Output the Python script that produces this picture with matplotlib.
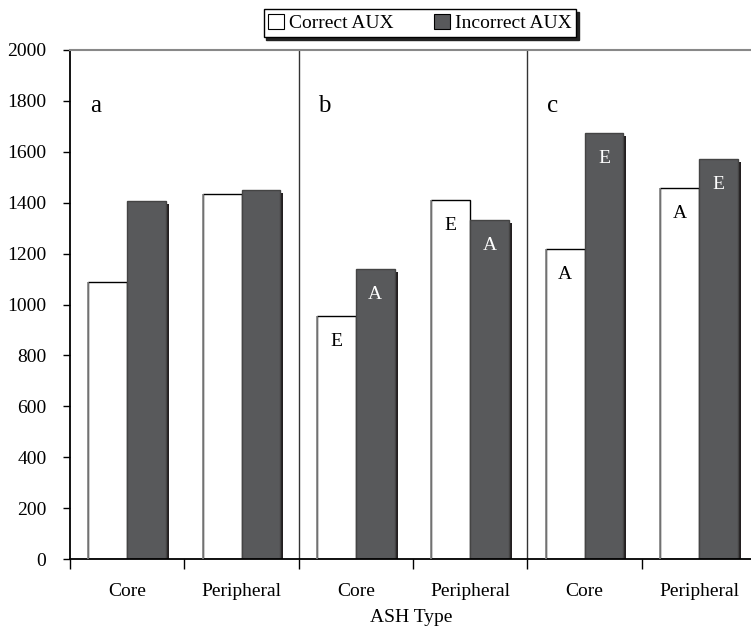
import numpy as np
import matplotlib
matplotlib.use("Agg")
import matplotlib.pyplot as plt
from matplotlib.patches import Patch

plt.rcParams['font.family'] = ['Liberation Serif', 'DejaVu Serif']

# data
panels = ['a', 'b', 'c']
categories = ['Core', 'Peripheral'] * 3
correct = [1087, 1434, 956, 1409, 1219, 1457]
incorrect = [1406, 1450, 1139, 1332, 1672, 1570]
correct_tags = ['', '', 'E', 'E', 'A', 'A']
incorrect_tags = ['', '', 'A', 'A', 'E', 'E']

dark = '#58595b'
w = 0.34

fig = plt.figure(figsize=(7.51, 6.28), dpi=100)
ax = fig.add_axes([70/751, 1 - 559/628, (751 - 69.5)/751, (559 - 50)/628])

x = np.arange(len(categories))
# shadows behind the dark bars
sh_x = 3/114.3
sh_y = 3/0.2546
ax.bar(x + sh_x, np.array(incorrect) - sh_y, w, align='edge', color='#231f20', zorder=1)
ax.bar(x - w, correct, w, align='edge', color='white', edgecolor='black', lw=1, zorder=2)
ax.bar(x, incorrect, w, align='edge', color=dark, edgecolor='#444444', lw=1, zorder=2)
ax.vlines(x - w, 0, correct, color='#888888', lw=1.2, zorder=3)

for i in range(len(x)):
    if correct_tags[i]:
        ax.text(x[i] - w/2, correct[i] - 100, correct_tags[i], ha='center', va='center',
                fontsize=14, color='black', zorder=4)
    if incorrect_tags[i]:
        ax.text(x[i] + w/2, incorrect[i] - 100, incorrect_tags[i], ha='center', va='center',
                fontsize=14, color='white', zorder=4)

# panel separators and letters
for s in [1.5, 3.5]:
    ax.axvline(s, color='#333333', lw=1, zorder=0)
for k, p in enumerate(panels):
    ax.text(2*k - 0.28, 1780, p, fontsize=18, ha='center', va='center')

ax.set_xlim(-0.5, 5.46)
ax.set_ylim(0, 2000)
ax.set_yticks(np.arange(0, 2001, 200))
ax.set_xticks(x)
ax.set_xticklabels(categories)
ax.set_xticks(np.arange(-0.5, 5.5, 1), minor=True)
ax.tick_params(axis='x', which='major', length=0, pad=17, labelsize=14)
ax.tick_params(axis='x', which='minor', length=7, width=1, direction='out')
ax.tick_params(axis='y', length=5, width=1, labelsize=14, pad=12)
ax.spines['right'].set_visible(False)
ax.spines['top'].set_color('#888888')
ax.spines['top'].set_linewidth(1.5)
ax.spines['left'].set_linewidth(1.3)
ax.spines['bottom'].set_linewidth(1.3)
ax.set_xlabel('ASH Type', fontsize=14, labelpad=7)

handles = [Patch(facecolor='white', edgecolor='black', lw=0.8),
           Patch(facecolor=dark, edgecolor='black', lw=0.8)]
fig.legend(handles, ['Correct AUX', 'Incorrect AUX'], loc='center', bbox_to_anchor=(420/751, 1 - 23/628),
           ncol=2, fontsize=14, frameon=True, fancybox=False, edgecolor='black',
           shadow={'color': '#222222', 'alpha': 1}, handlelength=0.8, handleheight=0.8,
           handletextpad=0.25, columnspacing=2.1, borderpad=0.25, borderaxespad=0.3, framealpha=1)

fig.savefig('out.png', dpi=100)
